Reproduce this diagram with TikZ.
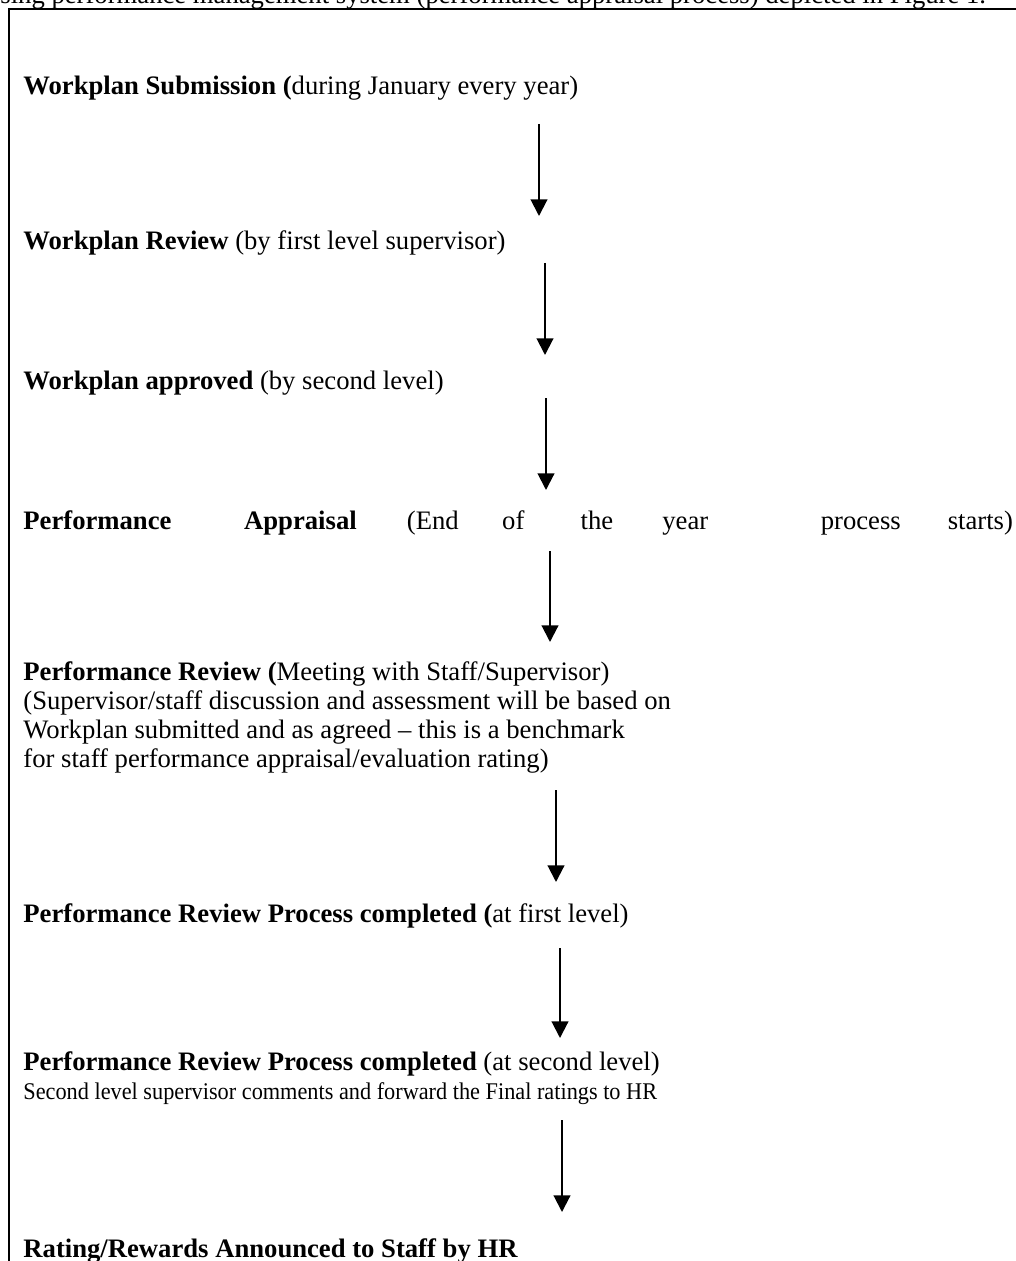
\documentclass[tikz,border=0pt]{standalone}
\usepackage{fontspec}
\setmainfont{Liberation Serif}
\usetikzlibrary{arrows.meta}

\tikzset{
	px/.style={x=0.48pt,y=-0.48pt},
	steptext/.style={anchor=base west, inner sep=0pt, align=left,
		font=\fontsize{12.8pt}{13.9pt}\selectfont},
	flow/.style={line width=1pt, -{Triangle[width=8pt,length=8pt]}},
	frame/.style={line width=1pt}
}

\begin{document}
\begin{tikzpicture}[px]
				\useasboundingbox (0,0) rectangle (1016,1261);
				\clip (0,0) rectangle (1016,1261);
				
				% Caption line cut at the top
				\node[steptext] (cap) at (0,4) {sing performance management system (performance appraisal process) depicted in Figure 1.};
				
				% Frame
				\draw[frame] (9,1275) -- (9,9) -- (1030,9);
				
				% Process steps (multi-line nodes sit on their last baseline)
				\node[steptext] (sub) at (23,95) {\textbf{Workplan Submission (}during January every year)};
				\node[steptext] (rev) at (23,250) {\textbf{Workplan Review} (by first level supervisor)};
				\node[steptext] (appr) at (23,389) {\textbf{Workplan approved} (by second level)};
				\node[steptext] (pa) at (23,529) {\hbox to 475pt{\textbf{Performance}\hspace{\stretch{1.42}}\textbf{Appraisal}\hspace{\stretch{0.98}}(End\hspace{\stretch{0.85}}of\hspace{\stretch{1.1}}the\hspace{\stretch{0.96}}year\hspace{\stretch{2.2}}process\hspace{\stretch{0.92}}starts)}};
				\node[steptext] (prm) at (23,767) {\textbf{Performance Review (}Meeting with Staff/Supervisor)\\
					(Supervisor/staff discussion and assessment will be based on\\
					Workplan submitted and as agreed -- this is a benchmark\\
					for staff performance appraisal/evaluation rating)};
				\node[steptext] (prc1) at (23,922) {\textbf{Performance Review Process completed (}at first level)};
				\node[steptext] (prc2) at (23,1099) {\textbf{Performance Review Process completed} (at second level)\\
					\scalebox{0.93}[1]{\fontsize{11.5pt}{13.9pt}\selectfont Second level supervisor comments and forward the Final ratings to HR}};
				\node[steptext] (rwd) at (23,1257) {\textbf{Rating/Rewards Announced to Staff by HR}};
				
				% Arrows between the steps
				\foreach \i/\x/\ya/\yb in {1/539/124/216, 2/545/263/355, 3/546/398/490,
					4/550/551/642, 5/556/790/882, 6/560/948/1038, 7/562/1120/1212} {
					\coordinate (s\i) at (\x,\ya);
					\coordinate (e\i) at (\x,\yb);
					\draw[flow] (s\i) -- (e\i);
				}
\end{tikzpicture}
\end{document}
